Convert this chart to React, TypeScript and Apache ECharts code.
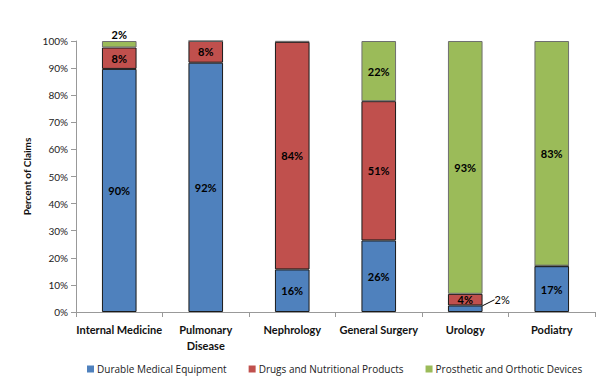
import React, { useEffect, useRef } from "react";
import * as echarts from "echarts";

const categories = ["Internal Medicine", "Pulmonary\nDisease", "Nephrology", "General Surgery", "Urology", "Podiatry"];
const seriesNames = ["Durable Medical Equipment", "Drugs and Nutritional Products", "Prosthetic and Orthotic Devices"];
const dme = [89.7, 92.0, 15.7, 26.4, 2.4, 16.9];
const drugs = [7.9, 8.0, 84.0, 51.4, 4.3, 0.2];
const prosthetic = [2.4, 0.0, 0.3, 22.2, 93.3, 82.9];
const yTicks = [0, 10, 20, 30, 40, 50, 60, 70, 80, 90, 100];

const colors = ["#4F81BD", "#C0504D", "#9BBB59"];
const FONT = "Lato, 'Liberation Sans', sans-serif";

export default function App() {
  const ref = useRef<HTMLDivElement>(null);
  useEffect(() => {
    const chart = echarts.init(ref.current!, null, { renderer: "svg" });
    const labelStyle = {
      show: true,
      color: "#000",
      fontWeight: "bold" as const,
      fontSize: 11,
      fontFamily: FONT,
      formatter: (p: any) => (p.value >= 1 ? Math.round(p.value) + "%" : ""),
    };
    const mk = (i: number, data: any[], extra: any = {}) => ({
      name: seriesNames[i],
      type: "bar",
      stack: "total",
      barWidth: "40%",
      data,
      itemStyle: { color: colors[i], borderColor: i === 2 ? "#6f6f6f" : "#1a1a1a", borderWidth: 1 },
      label: { ...labelStyle, position: "inside" },
      ...extra,
    });
    const dmeData = dme.map((v, i) =>
      i === 4
        ? {
            value: v,
            label: { position: "right", distance: 0, fontWeight: "normal", fontSize: 11 },
            labelLine: { show: true, lineStyle: { color: "#000", width: 1 } },
          }
        : v
    );
    const prosData = prosthetic.map((v, i) =>
      i === 0 ? { value: v, label: { position: "top", distance: 1 } } : v
    );
    chart.setOption({
      animation: false,
      textStyle: { fontFamily: FONT },
      grid: { left: 76, right: 11, top: 41, bottom: 67 },
      legend: {
        top: 359,
        left: 82,
        itemWidth: 7,
        itemHeight: 7,
        itemGap: 22,
        icon: "rect",
        itemStyle: { borderWidth: 0 },
        textStyle: { fontSize: 10, color: "#222", fontFamily: "'Open Sans', sans-serif", padding: [0, 0, 0, -2] },
        data: seriesNames,
      },
      xAxis: {
        type: "category",
        data: categories,
        axisLine: { lineStyle: { color: "#999" } },
        axisTick: { show: true, alignWithLabel: false, length: 5, lineStyle: { color: "#999" } },
        axisLabel: { color: "#111", fontWeight: "bold", fontSize: 11, fontFamily: FONT, margin: 9, lineHeight: 16, interval: 0 },
      },
      yAxis: {
        type: "value",
        min: 0,
        max: 100,
        interval: 10,
        name: "Percent of Claims",
        nameLocation: "middle",
        nameGap: 42,
        nameTextStyle: { color: "#111", fontWeight: "bold", fontSize: 10, fontFamily: FONT },
        axisLine: { show: true, lineStyle: { color: "#999" } },
        axisTick: { show: true, length: 5, lineStyle: { color: "#999" } },
        splitLine: { show: false },
        axisLabel: {
          color: "#222",
          fontSize: 10,
          fontFamily: FONT,
          margin: 8,
          formatter: (v: number) => (yTicks.includes(v) ? v + "%" : ""),
        },
      },
      series: [
        mk(0, dmeData, {
          labelLayout: (p: any) => (p.dataIndex === 4 ? { dx: 12, dy: -9 } : {}),
          labelLine: { show: false, lineStyle: { color: "#000", width: 1 } },
        }),
        mk(1, drugs),
        mk(2, prosData),
      ],
    });
    return () => chart.dispose();
  }, []);
  return <div ref={ref} style={{ width: 606, height: 379, position: "absolute", left: 0, top: 0 }} />;
}
